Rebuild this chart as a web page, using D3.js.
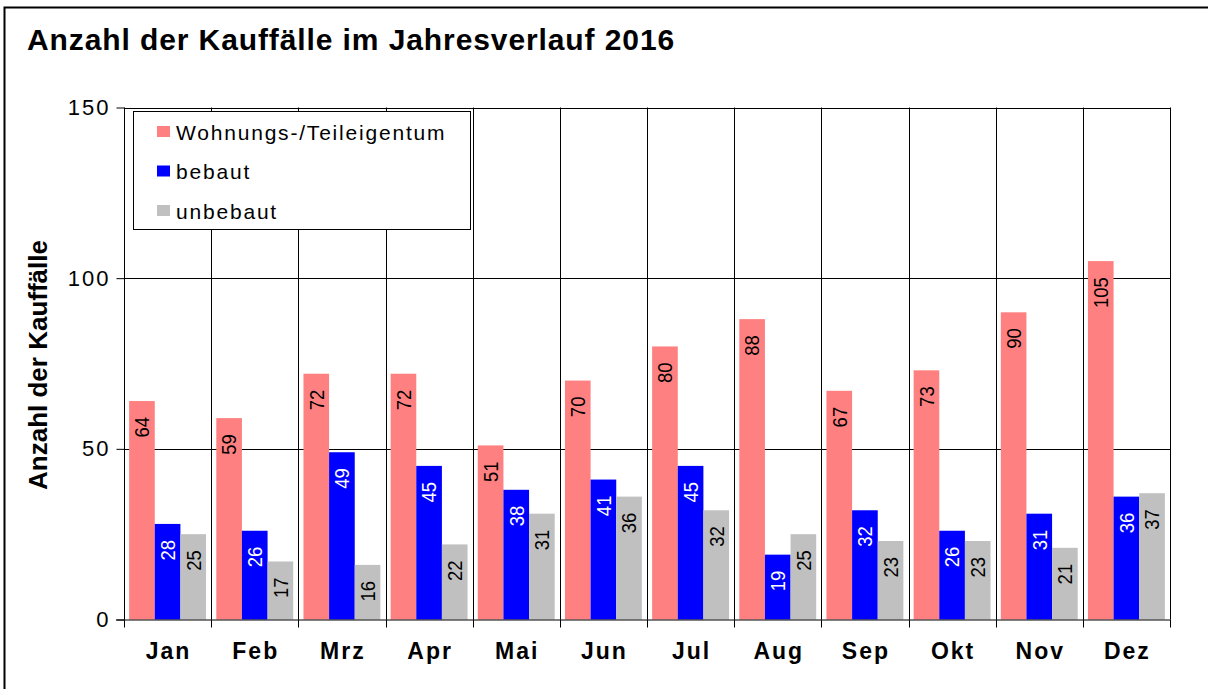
<!DOCTYPE html>
<html><head><meta charset="utf-8">
<script src="https://cdn.jsdelivr.net/npm/d3@7"></script>
<style>body{margin:0;background:#fff}svg{display:block}text{font-family:"Liberation Sans",Arial,sans-serif}</style>
</head><body><svg id="c" width="1208" height="689"></svg>
<script>
const months = ["Jan","Feb","Mrz","Apr","Mai","Jun","Jul","Aug","Sep","Okt","Nov","Dez"];
const seriesNames = ["Wohnungs-/Teileigentum","bebaut","unbebaut"];
const wohnung = [64,59,72,72,51,70,80,88,67,73,90,105];
const bebaut = [28,26,49,45,38,41,45,19,32,26,31,36];
const unbebaut = [25,17,16,22,31,36,32,25,23,23,21,37];
const yTicks = [0,50,100,150];
const colors = ["#FF8080","#0000FF","#C0C0C0"];
const labelColors = ["#000","#fff","#000"];

const series = [wohnung, bebaut, unbebaut];
const svg = d3.select("#c");
const L = 124, R = 1170, T = 107.5, B = 619.5;

svg.append("rect").attr("x",4.5).attr("y",7.5).attr("width",1300).attr("height",800)
  .attr("fill","none").attr("stroke","#000").attr("stroke-width",2);

svg.append("text").attr("x",27).attr("y",49.5).attr("font-size",30).attr("font-weight","bold")
  .attr("letter-spacing",0.9)
  .text("Anzahl der Kauffälle im Jahresverlauf 2016");

const x = d3.scaleBand().domain(months).range([L,R]).paddingInner(0).paddingOuter(0);
const y = d3.scaleLinear().domain([0,150]).range([B,T]);

// gridlines
const g = svg.append("g");
g.selectAll("line.h").data(yTicks.filter(d=>d>0)).join("line")
  .attr("x1",L).attr("x2",R).attr("y1",d=>Math.round(y(d))+0.5).attr("y2",d=>Math.round(y(d))+0.5)
  .attr("stroke","#000").attr("stroke-width",1);
const bounds = months.map(m=>x(m)).concat([R]);
g.selectAll("line.v").data(bounds.slice(1)).join("line")
  .attr("x1",d=>Math.round(d)+0.5).attr("x2",d=>Math.round(d)+0.5).attr("y1",T).attr("y2",B)
  .attr("stroke","#000").attr("stroke-width",1);

// bars
const gap = 0.4;
const bw = x.bandwidth();
const barW = bw/(3+gap);
const off = barW*gap/2;
series.forEach((vals,si)=>{
  const gs = svg.append("g");
  gs.selectAll("rect").data(vals).join("rect")
    .attr("x",(d,i)=>x(months[i])+off+si*barW)
    .attr("y",d=>y(d)).attr("width",barW).attr("height",d=>B-y(d))
    .attr("fill",colors[si]);
  gs.selectAll("text").data(vals).join("text")
    .attr("transform",(d,i)=>`translate(${x(months[i])+off+si*barW+barW/2},${y(d)+16}) scale(1.12,1) rotate(-90)`)
    .attr("text-anchor","end").attr("dominant-baseline","central")
    .attr("font-size",18.5).attr("fill",labelColors[si]).text(d=>d);
});

// axes
const yAxis = d3.axisLeft(y).tickValues(yTicks).tickSize(8).tickPadding(6).tickFormat(d3.format("d"));
const ya = svg.append("g").attr("transform",`translate(${L+0.5},0)`).call(yAxis);
ya.select(".domain").attr("d",`M0,${T}V${B}`);
ya.selectAll("text").attr("font-size",22).attr("letter-spacing",2).attr("fill","#000")
  .attr("font-family","Liberation Sans, Arial, sans-serif");

svg.append("line").attr("x1",L-8).attr("x2",R).attr("y1",B+0.5).attr("y2",B+0.5).attr("stroke","#000");
svg.selectAll("line.xt").data(bounds).join("line")
  .attr("x1",d=>Math.round(d)+0.5).attr("x2",d=>Math.round(d)+0.5).attr("y1",B).attr("y2",B+8)
  .attr("stroke","#000");
svg.selectAll("text.xl").data(months).join("text")
  .attr("x",d=>x(d)+bw/2+1).attr("y",658.5).attr("text-anchor","middle")
  .attr("font-size",23).attr("font-weight","bold").attr("letter-spacing",2).text(d=>d);

svg.append("text").attr("transform",`translate(47,365) rotate(-90)`)
  .attr("text-anchor","middle").attr("font-size",26).attr("font-weight","bold").text("Anzahl der Kauffälle");

// legend
const lg = svg.append("g");
lg.append("rect").attr("x",133.5).attr("y",111.5).attr("width",337).attr("height",118)
  .attr("fill","#fff").attr("stroke","#000");
seriesNames.forEach((n,i)=>{
  const cy = 131.5 + i*39.5;
  lg.append("rect").attr("x",157).attr("y",cy-5.5).attr("width",13).attr("height",11).attr("fill",colors[i]);
  lg.append("text").attr("x",176).attr("y",cy+0.5).attr("dominant-baseline","central")
    .attr("font-size",21).attr("letter-spacing",1.8).text(n);
});
</script></body></html>
